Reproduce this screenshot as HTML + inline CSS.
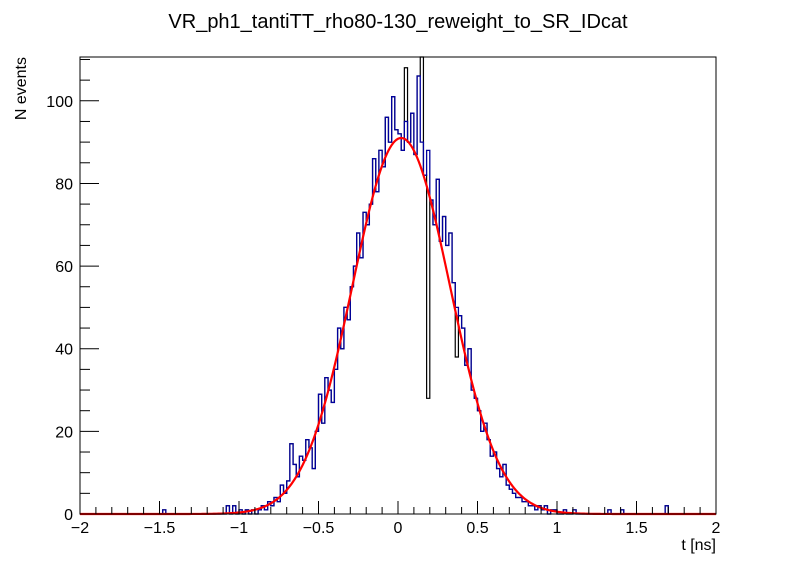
<!DOCTYPE html>
<html><head><meta charset="utf-8">
<style>
html,body{margin:0;padding:0;background:#fff;}
svg{display:block;font-family:"Liberation Sans",sans-serif;}
</style></head>
<body>
<svg id="chart" width="796" height="572" viewBox="0 0 796 572">
<rect x="0" y="0" width="796" height="572" fill="#fff"/>
<text x="398" y="28" font-size="20" text-anchor="middle">VR_ph1_tantiTT_rho80-130_reweight_to_SR_IDcat</text>
<text x="716" y="550" font-size="16" text-anchor="end">t [ns]</text>
<text transform="translate(26,57) rotate(-90)" font-size="16" text-anchor="end">N events</text>
<g id="plot"></g>
</svg>
<script>
const xMin=-2, xMax=2, nBins=200, yMax=110.6;
const firstBin=45;
const blueCounts=[0,2,0,2,0, 1,0,1,0,1, 0,1,2,1,3, 2,4,3,7,5, 8,17,12,9,14, 13,18,16,11,20, 29,22,33,30,27, 35,45,40,50,47, 55,60,68,62,73, 70,75,86,78,88, 84,96,90,101,93, 92,88,95,90,97, 87,106,90,82,88, 76,70,81,66,72, 65,68,56,50,48, 45,36,40,30,28, 25,20,22,18,14, 15,11,9,12,7, 6,5,4,4,3, 3,2,2,1,2, 1,2,0,1,1, 0,0,1,0,0,1,0,0,0,0];
const extraBins=[26,166,170,184];
const extraCounts=[1,1,1,2];
const blackBins=[66,102,107,109,118];
const blackCounts=[17,108,115,28,38];
const fitParams=[91,0.02,0.307];
const xTicks=[-2,-1.5,-1,-0.5,0,0.5,1,1.5,2];
const xTickLabels=["\u22122","\u22121.5","\u22121","\u22120.5","0","0.5","1","1.5","2"];
const yTicks=[0,20,40,60,80,100];
const yTickLabels=["0","20","40","60","80","100"];

const L=80,R=716,T=57,B=514;
const X=v=>L+(v-xMin)/(xMax-xMin)*(R-L);
const Y=v=>B-Math.min(v,yMax)/yMax*(B-T);
const NS="http://www.w3.org/2000/svg";
const g=document.getElementById('plot');
function mk(tag,attrs){const e=document.createElementNS(NS,tag);for(const k in attrs)e.setAttribute(k,attrs[k]);g.appendChild(e);return e;}

function fullCounts(){const c=new Array(nBins).fill(0);blueCounts.forEach((v,i)=>c[firstBin+i]=v);extraBins.forEach((b,i)=>c[b]=extraCounts[i]);return c;}
function histPath(c){const w=(xMax-xMin)/nBins;let d="M"+X(xMin)+","+Y(0);for(let i=0;i<nBins;i++){const x0=X(xMin+i*w),x1=X(xMin+(i+1)*w);d+=" L"+x0+","+Y(c[i])+" L"+x1+","+Y(c[i]);}d+=" L"+X(xMax)+","+Y(0);return d;}

const blue=fullCounts();
const black=blue.slice();blackBins.forEach((b,i)=>black[b]=blackCounts[i]);

const hb=mk('path',{d:histPath(black),fill:'none',stroke:'#000',"stroke-width":1.2});


const hbl=mk('path',{d:histPath(blue),fill:'none',stroke:'#00009c',"stroke-width":1.3});



let fd="";for(let i=0;i<=400;i++){const x=xMin+i*(xMax-xMin)/400;const y=fitParams[0]*Math.exp(-Math.pow(x-fitParams[1],2)/(2*fitParams[2]*fitParams[2]));fd+=(i?" L":"M")+X(x).toFixed(2)+","+Y(y).toFixed(2);}
const fit=mk('path',{d:fd,fill:'none',stroke:'#ff0000',"stroke-width":2.2});



const fr=mk('rect',{x:L,y:T,width:R-L,height:B-T,fill:'none',stroke:'#000',"stroke-width":1});



for(let k=0;k<=40;k++){const v=xMin+k*0.1;const major=k%5===0;const t=mk('line',{x1:X(v),x2:X(v),y1:B,y2:B-(major?13:7),stroke:'#000'});

}
xTicks.forEach((v,i)=>{const t=mk('text',{x:X(v),y:B+19,"font-size":16,"text-anchor":"middle"});t.textContent=xTickLabels[i];

});
for(let v=0;v<=yMax;v+=5){const major=v%20===0;const t=mk('line',{x1:L,x2:L+(major?19:10),y1:Y(v),y2:Y(v),stroke:'#000'});

}
yTicks.forEach((v,i)=>{const t=mk('text',{x:L-7,y:Y(v)+6,"font-size":16,"text-anchor":"end"});t.textContent=yTickLabels[i];

});
</script>
</body></html>
